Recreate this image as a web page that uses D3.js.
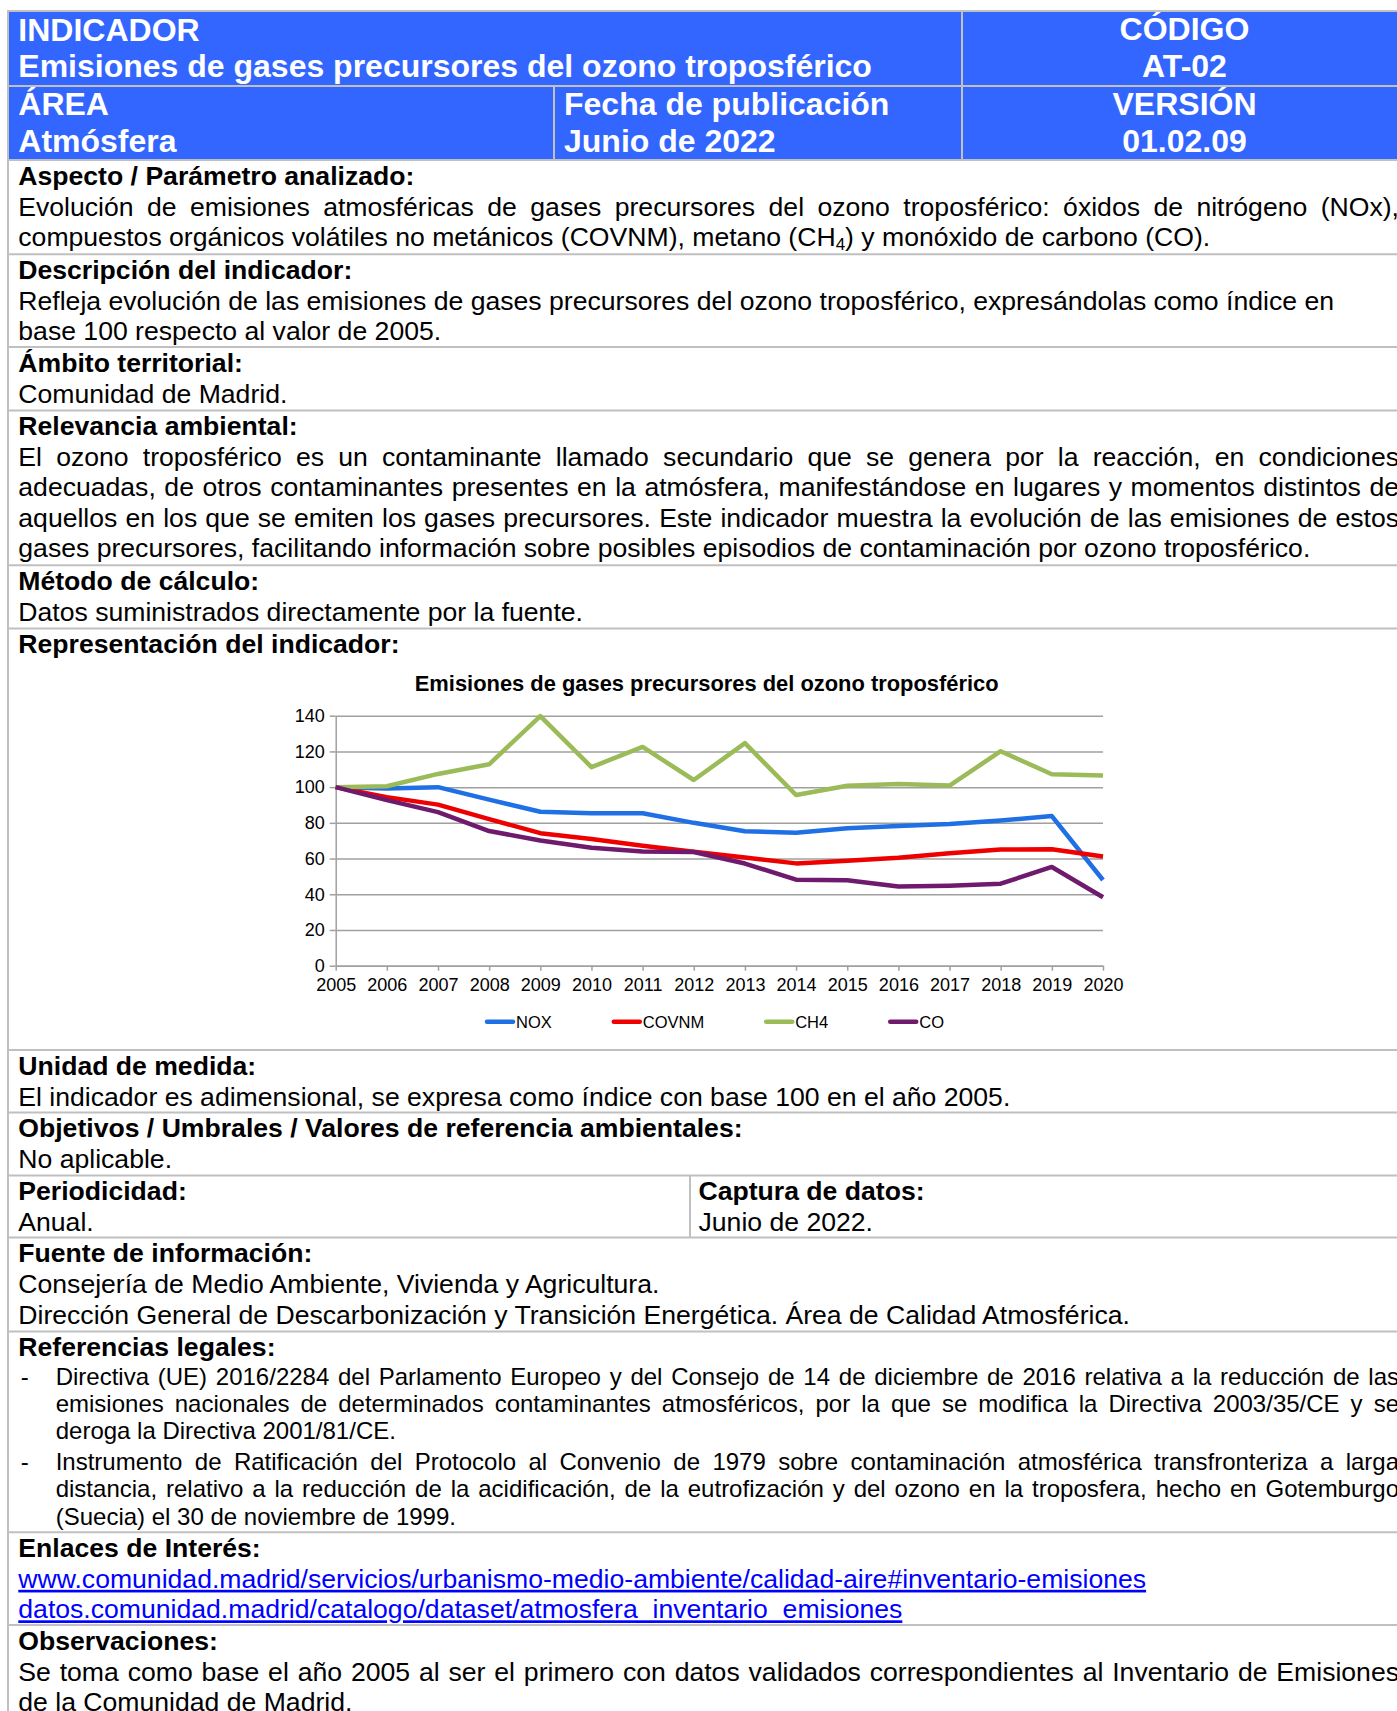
<!DOCTYPE html>
<html>
<head>
<meta charset="utf-8">
<script src="https://cdn.jsdelivr.net/npm/d3@7"></script>
<style>
    body { margin: 0; background: #fff; overflow: hidden; }
    svg text { font-family: "Liberation Sans", Arial, sans-serif; }
</style>
</head>
<body>
<svg id="page" width="1397" height="1711"></svg>
<script>

// chart data (indice base 100 = 2005)
var years = [2005, 2006, 2007, 2008, 2009, 2010, 2011, 2012, 2013, 2014, 2015, 2016, 2017, 2018, 2019, 2020];
var noxValues   = [100, 99.3, 100, 93.0, 86.2, 85.4, 85.4, 80.0, 75.3, 74.5, 77.0, 78.3, 79.3, 81.3, 83.8, 48.0];
var covnmValues = [100, 94.4, 90.2, 82.1, 74.2, 70.9, 67.2, 63.8, 60.6, 57.3, 58.8, 60.4, 63.0, 65.1, 65.2, 61.1];
var ch4Values   = [100, 100.5, 107.4, 112.8, 139.8, 111.2, 122.5, 104.0, 124.6, 95.6, 100.8, 101.7, 100.9, 120.1, 107.2, 106.5];
var coValues    = [100, 92.7, 86.0, 75.4, 70.1, 66.0, 63.9, 63.7, 57.2, 48.2, 47.8, 44.3, 44.8, 45.9, 55.3, 38.3];

var seriesNames  = ['NOX', 'COVNM', 'CH4', 'CO'];
var seriesColors = ['#1f6fe5', '#ee0000', '#9bbb59', '#701a6e'];
var yTickValues  = [0, 20, 40, 60, 80, 100, 120, 140];
var chartTitle   = 'Emisiones de gases precursores del ozono troposférico';

// ficha text
var sections = [
    {top: 160, head: 'Aspecto / Parámetro analizado:', lines: [
        {text: 'Evolución de emisiones atmosféricas de gases precursores del ozono troposférico: óxidos de nitrógeno (NOx),', justify: true},
        {text: 'compuestos orgánicos volátiles no metánicos (COVNM), metano (CH', sub: '4', after: ') y monóxido de carbono (CO).'}
    ]},
    {top: 254.3, head: 'Descripción del indicador:', lines: [
        {text: 'Refleja evolución de las emisiones de gases precursores del ozono troposférico, expresándolas como índice en'},
        {text: 'base 100 respecto al valor de 2005.'}
    ]},
    {top: 347, head: 'Ámbito territorial:', lines: [
        {text: 'Comunidad de Madrid.'}
    ]},
    {top: 410.4, head: 'Relevancia ambiental:', lines: [
        {text: 'El ozono troposférico es un contaminante llamado secundario que se genera por la reacción, en condiciones', justify: true},
        {text: 'adecuadas, de otros contaminantes presentes en la atmósfera, manifestándose en lugares y momentos distintos de', justify: true},
        {text: 'aquellos en los que se emiten los gases precursores. Este indicador muestra la evolución de las emisiones de estos', justify: true},
        {text: 'gases precursores, facilitando información sobre posibles episodios de contaminación por ozono troposférico.'}
    ]},
    {top: 565.3, head: 'Método de cálculo:', lines: [
        {text: 'Datos suministrados directamente por la fuente.'}
    ]},
    {top: 628.6, head: 'Representación del indicador:', lines: []},
    {top: 1050, head: 'Unidad de medida:', lines: [
        {text: 'El indicador es adimensional, se expresa como índice con base 100 en el año 2005.'}
    ]},
    {top: 1112.5, head: 'Objetivos / Umbrales / Valores de referencia ambientales:', lines: [
        {text: 'No aplicable.'}
    ]},
    {top: 1175.4, head: 'Periodicidad:', lines: [{text: 'Anual.'}],
        col2: {x: 698.5, divider: 690, head: 'Captura de datos:', lines: [{text: 'Junio de 2022.'}]}},
    {top: 1237.6, head: 'Fuente de información:', lines: [
        {text: 'Consejería de Medio Ambiente, Vivienda y Agricultura.'},
        {text: 'Dirección General de Descarbonización y Transición Energética. Área de Calidad Atmosférica.'}
    ]},
    {top: 1331.6, head: 'Referencias legales:', lines: [
        {text: 'Directiva (UE) 2016/2284 del Parlamento Europeo y del Consejo de 14 de diciembre de 2016 relativa a la reducción de las', justify: true, dash: true, size: 24, x: 55.7, step: 28.7},
        {text: 'emisiones nacionales de determinados contaminantes atmosféricos, por la que se modifica la Directiva 2003/35/CE y se', justify: true, size: 24, x: 55.7, step: 27.3},
        {text: 'deroga la Directiva 2001/81/CE.', size: 24, x: 55.7, step: 27.3},
        {text: 'Instrumento de Ratificación del Protocolo al Convenio de 1979 sobre contaminación atmosférica transfronteriza a larga', justify: true, dash: true, size: 24, x: 55.7, step: 30.5},
        {text: 'distancia, relativo a la reducción de la acidificación, de la eutrofización y del ozono en la troposfera, hecho en Gotemburgo', justify: true, size: 24, x: 55.7, step: 27.3},
        {text: '(Suecia) el 30 de noviembre de 1999.', size: 24, x: 55.7, step: 27.3}
    ]},
    {top: 1532.3, head: 'Enlaces de Interés:', lines: [
        {text: 'www.comunidad.madrid/servicios/urbanismo-medio-ambiente/calidad-aire#inventario-emisiones', link: true},
        {text: 'datos.comunidad.madrid/catalogo/dataset/atmosfera_inventario_emisiones', link: true}
    ]},
    {top: 1625.1, head: 'Observaciones:', lines: [
        {text: 'Se toma como base el año 2005 al ser el primero con datos validados correspondientes al Inventario de Emisiones', justify: true},
        {text: 'de la Comunidad de Madrid.'}
    ]}
];

var headerBlue = '#3366ff';
var borderGray = '#c0c0c0';
var bodySize = 26.6;
var textRight = 1399;
var tableLeft = 8, tableRight = 1407;

var svg = d3.select('#page');

var probe = svg.append('text').attr('visibility', 'hidden');
var measure = function(str, size, weight) {
    probe.attr('font-size', size).attr('font-weight', weight || 'normal').text(str);
    return probe.node().getComputedTextLength();
};

// draws one line of body text, justified or not
var drawLine = function(line, x, baseline) {
    var size = line.size || bodySize;
    if (line.dash) {
        svg.append('text').attr('x', 20.7).attr('y', baseline).attr('font-size', size).text('-');
    }
    if (line.justify) {
        var words = line.text.split(' ');
        var widths = words.map(function(w) { return measure(w, size); });
        var gap = (textRight - x - d3.sum(widths)) / (words.length - 1);
        var cx = x;
        words.forEach(function(w, i) {
            svg.append('text').attr('x', cx).attr('y', baseline).attr('font-size', size).text(w);
            cx += widths[i] + gap;
        });
        return;
    }
    var t = svg.append('text').attr('x', x).attr('y', baseline).attr('font-size', size);
    if (line.sub) {
        t.append('tspan').text(line.text);
        t.append('tspan').attr('font-size', 17).attr('dy', 4).text(line.sub);
        t.append('tspan').attr('dy', -4).text(line.after);
    } else {
        t.text(line.text);
    }
    if (line.link) {
        t.attr('fill', '#0000ff').attr('text-decoration', 'underline');
    }
};

var drawBlock = function(x, top, head, lines) {
    var baseline = top + 24.5;
    svg.append('text').attr('x', x).attr('y', baseline)
        .attr('font-size', bodySize).attr('font-weight', 'bold').text(head);
    lines.forEach(function(line, i) {
        baseline += line.step || (i == 0 ? 31 : 30.5);
        drawLine(line, line.x || x, baseline);
    });
};

// ---------- header ----------
svg.append('rect').attr('x', tableLeft).attr('y', 11).attr('width', tableRight - tableLeft).attr('height', 149).attr('fill', headerBlue);

var hdr = [
    {t: 'INDICADOR', x: 18.3, y: 40.7},
    {t: 'Emisiones de gases precursores del ozono troposférico', x: 18.3, y: 76.5},
    {t: 'ÁREA', x: 18.3, y: 115},
    {t: 'Atmósfera', x: 18.3, y: 151.7},
    {t: 'Fecha de publicación', x: 564, y: 115},
    {t: 'Junio de 2022', x: 564, y: 151.7},
    {t: 'CÓDIGO', x: 1184.5, y: 39.5, mid: true},
    {t: 'AT-02', x: 1184.5, y: 76.5, mid: true},
    {t: 'VERSIÓN', x: 1184.5, y: 115, mid: true},
    {t: '01.02.09', x: 1184.5, y: 151.7, mid: true}
];
svg.selectAll('.hdr').data(hdr).enter().append('text')
    .attr('class', 'hdr')
    .attr('x', function(d) { return d.x; })
    .attr('y', function(d) { return d.y; })
    .attr('text-anchor', function(d) { return d.mid ? 'middle' : 'start'; })
    .attr('font-size', 32).attr('font-weight', 'bold').attr('fill', '#fff')
    .text(function(d) { return d.t; });

var rule = function(x1, y1, x2, y2) {
    svg.append('line').attr('x1', x1).attr('y1', y1).attr('x2', x2).attr('y2', y2)
        .attr('stroke', borderGray).attr('stroke-width', 2);
};
rule(tableLeft, 11, tableRight, 11);
rule(tableLeft, 86, tableRight, 86);
rule(962, 11, 962, 160);
rule(554, 86, 554, 160);
rule(tableLeft, 10, tableLeft, 1711);

// ---------- body sections ----------
sections.forEach(function(s, k) {
    rule(tableLeft, s.top, tableRight, s.top);
    drawBlock(18.3, s.top, s.head, s.lines);
    if (s.col2) {
        var next = sections[k + 1].top;
        rule(s.col2.divider, s.top, s.col2.divider, next);
        drawBlock(s.col2.x, s.top, s.col2.head, s.col2.lines);
    }
});

// ---------- chart ----------
var x = d3.scalePoint().domain(years).range([335.7, 1103]);
var y = d3.scaleLinear().domain([0, 140]).range([965.7, 715.7]);
var plotW = 1103 - 335.7;

var chart = svg.append('g');

chart.append('text').attr('x', 706.7).attr('y', 690.5).attr('text-anchor', 'middle')
    .attr('font-size', 21.9).attr('font-weight', 'bold').text(chartTitle);

// gridlines
var grid = chart.append('g').attr('transform', 'translate(335.7,0)')
    .call(d3.axisLeft(y).tickValues(yTickValues).tickSize(-plotW).tickFormat(''));
grid.select('.domain').remove();
grid.selectAll('line').attr('stroke', '#a0a0a0').attr('stroke-width', 1.5);

var yAxis = chart.append('g').attr('transform', 'translate(335.7,0)')
    .call(d3.axisLeft(y).tickValues(yTickValues).tickSizeInner(6).tickSizeOuter(0).tickPadding(5));
var xAxis = chart.append('g').attr('transform', 'translate(0,965.7)')
    .call(d3.axisBottom(x).tickSizeInner(5).tickSizeOuter(0).tickPadding(8));

[yAxis, xAxis].forEach(function(a) {
    a.select('.domain').attr('stroke', '#a0a0a0').attr('stroke-width', 1.5);
    a.selectAll('line').attr('stroke', '#a0a0a0').attr('stroke-width', 1.5);
    a.selectAll('text').attr('font-size', 18).attr('fill', '#000')
        .attr('font-family', '"Liberation Sans", Arial, sans-serif');
});

var allSeries = [noxValues, covnmValues, ch4Values, coValues];
var line = d3.line()
    .x(function(d, i) { return x(years[i]); })
    .y(function(d) { return y(d); });

chart.selectAll('.series').data(allSeries).enter().append('path')
    .attr('class', 'series')
    .attr('d', line)
    .attr('fill', 'none')
    .attr('stroke', function(d, i) { return seriesColors[i]; })
    .attr('stroke-width', 4.5)
    .attr('stroke-linejoin', 'round');

// legend
var legendY = 1021.7, legendSize = 16.5, swatch = 30, legendGap = 60;
var labelW = seriesNames.map(function(n) { return measure(n, legendSize); });
var legendW = d3.sum(labelW) + seriesNames.length * (swatch + 1) + (seriesNames.length - 1) * legendGap;
var lx = 714.5 - legendW / 2;
seriesNames.forEach(function(name, i) {
    chart.append('line').attr('x1', lx + 2).attr('x2', lx + swatch - 2)
        .attr('y1', legendY).attr('y2', legendY)
        .attr('stroke', seriesColors[i]).attr('stroke-width', 4.5).attr('stroke-linecap', 'round');
    chart.append('text').attr('x', lx + swatch + 1).attr('y', legendY + 6)
        .attr('font-size', legendSize).text(name);
    lx += swatch + 1 + labelW[i] + legendGap;
});

</script>
</body>
</html>
